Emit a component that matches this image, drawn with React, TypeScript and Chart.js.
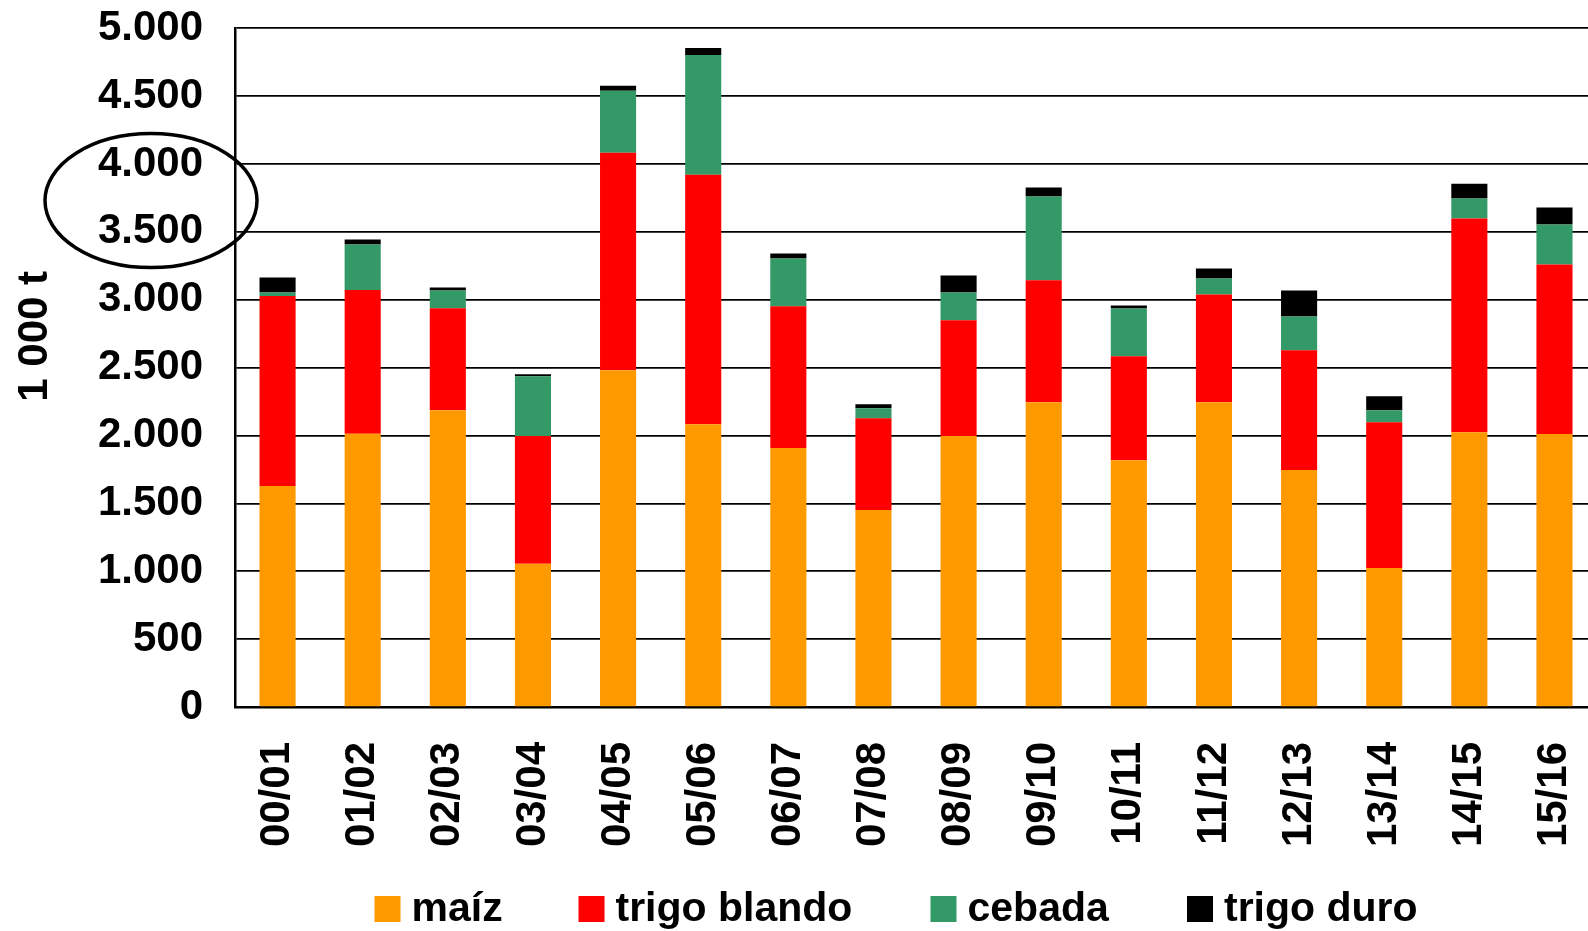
import React, { useEffect, useRef } from 'react';
import { Chart, registerables } from 'chart.js';

Chart.register(...registerables);

const categories = ['00/01', '01/02', '02/03', '03/04', '04/05', '05/06', '06/07', '07/08', '08/09', '09/10', '10/11', '11/12', '12/13', '13/14', '14/15', '15/16'];
const maiz = [1627, 2012, 2186, 1056, 2480, 2083, 1907, 1451, 1997, 2245, 1818, 2245, 1745, 1024, 2024, 2010];
const trigoBlando = [1400, 1059, 752, 941, 1603, 1838, 1044, 676, 851, 899, 765, 794, 882, 1074, 1574, 1250];
const cebada = [26, 336, 130, 439, 456, 882, 353, 74, 205, 616, 353, 117, 250, 88, 147, 294];
const trigoDuro = [111, 36, 22, 15, 37, 52, 36, 29, 125, 66, 22, 74, 191, 103, 110, 125];
const seriesLabels = ['maíz', 'trigo blando', 'cebada', 'trigo duro'];
const seriesColors = ['#FF9900', '#FF0000', '#339966', '#000000'];
const yTitle = '1 000 t';
const yMax = 5000;
const yStep = 500;

const FONT = '"Liberation Sans", Arial, Helvetica, sans-serif';
// legend item offsets from the plot's left edge (layout)
const legendOffsets = [139.5, 343.5, 695.5, 952];

function fmt(v: number): string {
  return String(Math.round(v)).replace(/\B(?=(\d{3})+(?!\d))/g, '.');
}

const overlayPlugin = {
  id: 'overlay',
  afterDraw(chart: any) {
    const ctx = chart.ctx as CanvasRenderingContext2D;
    const y = chart.scales.y;
    const area = chart.chartArea;
    ctx.save();
    // y axis title
    ctx.fillStyle = '#000';
    ctx.font = `bold 42px ${FONT}`;
    ctx.textAlign = 'center';
    ctx.textBaseline = 'middle';
    ctx.translate(y.left + 35, y.getPixelForValue(2730));
    ctx.rotate(-Math.PI / 2);
    ctx.fillText(yTitle, 0, 0);
    ctx.restore();

    // ellipse annotation around 4.000 / 3.500 labels
    ctx.save();
    ctx.beginPath();
    ctx.ellipse(y.left + 151, y.getPixelForValue(3730), 106, 67, 0, 0, Math.PI * 2);
    ctx.lineWidth = 3.5;
    ctx.strokeStyle = '#000';
    ctx.stroke();
    ctx.restore();

    // legend
    ctx.save();
    ctx.font = `bold 41px ${FONT}`;
    ctx.textBaseline = 'middle';
    ctx.textAlign = 'left';
    const box = 26;
    const gapText = 11;
    const cy = chart.height - 22;
    chart.data.datasets.forEach((ds: any, i: number) => {
      const x = area.left + legendOffsets[i];
      ctx.fillStyle = ds.backgroundColor;
      ctx.fillRect(x, cy - box / 2, box, box);
      ctx.fillStyle = '#000';
      ctx.fillText(ds.label, x + box + gapText, cy + 1);
    });
    ctx.restore();
  },
};

const W = 1640;
const H = 960;
const SHIFT = 29;

export default function App() {
  const canvasRef = useRef<HTMLCanvasElement | null>(null);

  useEffect(() => {
    document.body.style.margin = '0';
    document.body.style.overflow = 'hidden';
    document.documentElement.style.overflow = 'hidden';
    const canvas = canvasRef.current;
    if (!canvas) return;
    const series = [maiz, trigoBlando, cebada, trigoDuro];
    const chart = new Chart(canvas, {
      type: 'bar',
      data: {
        labels: categories,
        datasets: series.map((d, i) => ({
          label: seriesLabels[i],
          data: d,
          backgroundColor: seriesColors[i],
          borderWidth: 0,
          barPercentage: 0.424,
          categoryPercentage: 1,
        })),
      },
      options: {
        responsive: false,
        maintainAspectRatio: false,
        animation: false,
        devicePixelRatio: 1,
        layout: { padding: { top: 2, right: 4, left: 0, bottom: 0 } },
        plugins: {
          legend: { display: false },
          tooltip: { enabled: false },
          title: { display: false },
        },
        scales: {
          x: {
            stacked: true,
            offset: true,
            grid: { display: false, drawTicks: false },
            border: { display: true, color: '#000', width: 2.5 },
            ticks: {
              autoSkip: false,
              minRotation: 90,
              maxRotation: 90,
              padding: 35,
              color: '#000',
              font: { family: FONT, size: 42, weight: 'bold' },
            },
            afterFit: (scale: any) => {
              scale.height = 224;
            },
          },
          y: {
            stacked: true,
            min: 0,
            max: yMax,
            grid: { color: '#000', lineWidth: 1.7, drawTicks: false },
            border: { display: true, color: '#000', width: 2.5 },
            ticks: {
              stepSize: yStep,
              padding: 32,
              color: '#000',
              font: { family: FONT, size: 42, weight: 'bold' },
              callback: (v: any) => fmt(Number(v)),
            },
            afterFit: (scale: any) => {
              scale.width = 235;
            },
          },
        },
      },
      plugins: [overlayPlugin],
    });
    return () => chart.destroy();
  }, []);

  return (
    <div style={{ width: 1588, height: 931, overflow: 'hidden' }}>
      <canvas
        ref={canvasRef}
        width={W}
        height={H}
        style={{ display: 'block', width: W, height: H, marginTop: -SHIFT }}
      />
    </div>
  );
}
